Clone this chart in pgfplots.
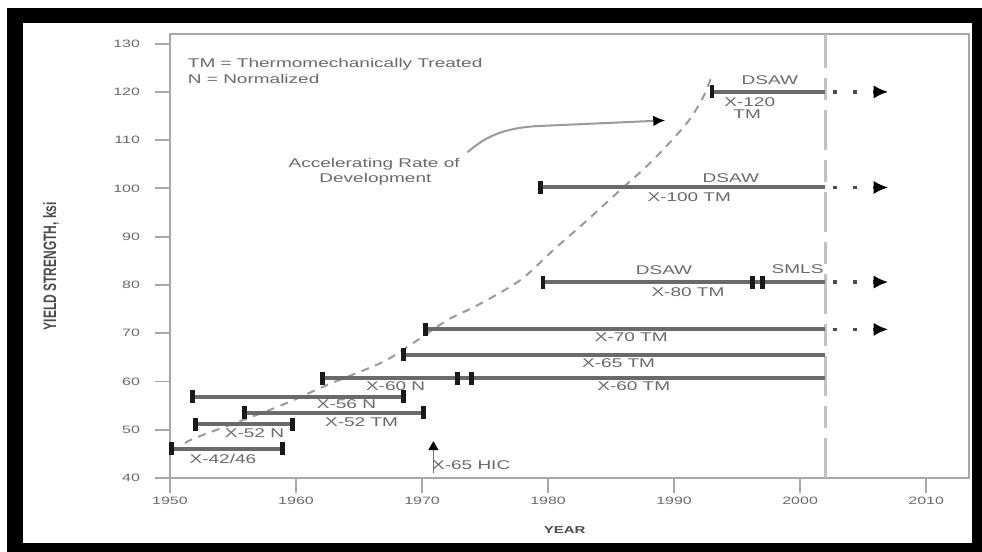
\documentclass[border=0pt]{standalone}
\usepackage{pgfplots}
\pgfplotsset{compat=1.18}
\usepackage{graphicx}
\usepackage{fontspec}
\setmainfont{Liberation Sans}[FakeStretch=1.5]
\newfontfamily\plainsans{Liberation Sans}
\usetikzlibrary{arrows.meta}
\definecolor{barc}{HTML}{6A6A6A}
\definecolor{txt}{HTML}{6A6A6A}
\definecolor{curvec}{HTML}{9A9A9A}
\definecolor{vlinec}{HTML}{C2C2C2}
\definecolor{framec}{HTML}{A8A8A8}
\tikzset{lbl/.style={font=\fontsize{9.5}{11}\selectfont, text=txt, inner sep=0pt}}
\begin{document}
\begin{tikzpicture}[x=1pt,y=1pt]
\useasboundingbox (0,0) rectangle (736.5,414);
\fill[white] (0,0) rectangle (736.5,414);
\fill[black] (5.25,0) rectangle (736.5,408);
\fill[white] (17.25,6.75) rectangle (729,396.75);
\begin{axis}[
  at={(127.5pt,55.5pt)}, anchor=south west,
  scale only axis, width=599.25pt, height=333pt,
  xmin=1950, xmax=2013.4, ymin=40, ymax=132,
  xtick={1950,1960,...,2010}, ytick={40,50,...,130},
  tick pos=left, tick align=outside, major tick length=11pt,
  axis line style={framec, line width=1.6pt},
  every tick/.style={framec, line width=1.4pt},
  /pgf/number format/assume math mode=true,
  xticklabel style={font=\fontsize{8}{9}\selectfont, text=txt, /pgf/number format/1000 sep={}},
  yticklabel style={font=\fontsize{8}{9}\selectfont, text=txt, xshift=-8pt},
  xlabel={YEAR},
  xlabel style={at={(axis description cs:0.494,-0.117)}, anchor=center, font=\bfseries\fontsize{7.5}{9}\selectfont, text=black!70},
  ylabel={\plainsans\bfseries\scalebox{1}[1.5]{YIELD STRENGTH, ksi}},
  ylabel style={at={(axis description cs:-0.149,0.477)}, anchor=center, font=\fontsize{9}{10}\selectfont, text=black!70},
  clip=false,
  bar/.style={barc, line width=3pt},
  cap/.style={only marks, mark=|, mark size=4.9pt, mark options={black!90, line width=3.6pt}},
  ext/.style={black!70, line width=2.6pt, dash pattern=on 3pt off 12pt, dash phase=9pt, -{Latex[length=11pt,width=10pt,color=black]}},
]
% accelerating curve
\addplot[curvec, line width=1.5pt, dash pattern=on 6pt off 5pt, smooth, tension=0.5] coordinates {
(1951.2,47.2) (1952.2,48.5) (1958.5,54.7) (1962.5,59.3) (1966.7,63.8) (1968.8,67.1)
(1972.0,72.7) (1974.4,75.8) (1977.8,81.0) (1980.4,87.2) (1983.1,93.4) (1985.7,99.6)
(1988.3,105.8) (1991.0,113.5) (1992.3,118.9) (1993.0,123.4)};
% vertical dashed line
\addplot[vlinec, line width=2.3pt, dash pattern=on 30pt off 7.5pt on 16.5pt off 7.5pt] coordinates {(2002,40) (2002,132)};
% bars
\addplot[bar] coordinates {(1950.1,46.1) (1958.9,46.1)};
\addplot[cap] coordinates {(1950.1,46.1) (1958.9,46.1)};
\addplot[bar] coordinates {(1952.0,51.1) (1959.7,51.1)};
\addplot[cap] coordinates {(1952.0,51.1) (1959.7,51.1)};
\addplot[bar] coordinates {(1955.9,53.5) (1970.1,53.5)};
\addplot[cap] coordinates {(1955.9,53.5) (1970.1,53.5)};
\addplot[bar] coordinates {(1951.8,56.8) (1968.5,56.8)};
\addplot[cap] coordinates {(1951.8,56.8) (1968.5,56.8)};
\addplot[bar] coordinates {(1962.1,60.7) (2002,60.7)};
\addplot[cap] coordinates {(1962.1,60.7) (1972.8,60.7) (1973.9,60.7)};
\addplot[bar] coordinates {(1968.5,65.5) (2002,65.5)};
\addplot[cap] coordinates {(1968.5,65.5)};
\addplot[bar] coordinates {(1970.3,70.8) (2002,70.8)};
\addplot[cap] coordinates {(1970.3,70.8)};
\addplot[ext] coordinates {(2002,70.8) (2007,70.8)};
\addplot[bar] coordinates {(1979.6,80.6) (2002,80.6)};
\addplot[cap] coordinates {(1979.6,80.6) (1996.2,80.6) (1997.0,80.6)};
\addplot[ext] coordinates {(2002,80.6) (2007,80.6)};
\addplot[bar] coordinates {(1979.4,100.2) (2002,100.2)};
\addplot[cap] coordinates {(1979.4,100.2)};
\addplot[ext] coordinates {(2002,100.2) (2007,100.2)};
\addplot[bar] coordinates {(1993.0,120.0) (2002,120.0)};
\addplot[cap] coordinates {(1993.0,120.0)};
\addplot[ext] coordinates {(2002,120.0) (2007,120.0)};
% X-65 HIC
\addplot[black!55, line width=1pt] coordinates {(1970.9,41.0) (1970.9,46.0)};
\addplot[only marks, mark=triangle*, mark size=4pt, black] coordinates {(1970.9,46.4)};
% annotation arrow
\draw[curvec, line width=1.5pt, -{Latex[length=9pt,width=8pt,color=black]}] (axis cs:1973.6,107.5) .. controls (axis cs:1975,110.6) and (axis cs:1976.3,112.4) .. (axis cs:1979,112.9) -- (axis cs:1989.3,114.1);
% labels
\node[lbl] at (axis cs:1954.2,43.9) {X-42/46};
\node[lbl] at (axis cs:1956.7,49.3) {X-52 N};
\node[lbl] at (axis cs:1965.2,51.6) {X-52 TM};
\node[lbl] at (axis cs:1964.0,55.3) {X-56 N};
\node[lbl] at (axis cs:1967.9,59.1) {X-60 N};
\node[lbl] at (axis cs:1986.8,59.0) {X-60 TM};
\node[lbl] at (axis cs:1985.6,63.8) {X-65 TM};
\node[lbl] at (axis cs:1986.6,69.2) {X-70 TM};
\node[lbl] at (axis cs:1991.1,78.5) {X-80 TM};
\node[lbl] at (axis cs:1989.2,83.1) {DSAW};
\node[lbl] at (axis cs:1999.8,83.3) {SMLS};
\node[lbl] at (axis cs:1991.2,98.2) {X-100 TM};
\node[lbl] at (axis cs:1994.5,102.1) {DSAW};
\node[lbl] at (axis cs:1997.6,122.4) {DSAW};
\node[lbl] at (axis cs:1996.0,117.8) {X-120};
\node[lbl] at (axis cs:1995.8,115.4) {TM};
\node[lbl] at (axis cs:1973.9,42.7) {X-65 HIC};
\node[lbl, anchor=west] at (axis cs:1951.4,125.7) {TM = Thermomechanically Treated};
\node[lbl, anchor=west] at (axis cs:1951.4,122.6) {N = Normalized};
\node[lbl] at (axis cs:1966.2,105.0) {Accelerating Rate of};
\node[lbl] at (axis cs:1966.3,101.9) {Development};
\end{axis}
\end{tikzpicture}
\end{document}
